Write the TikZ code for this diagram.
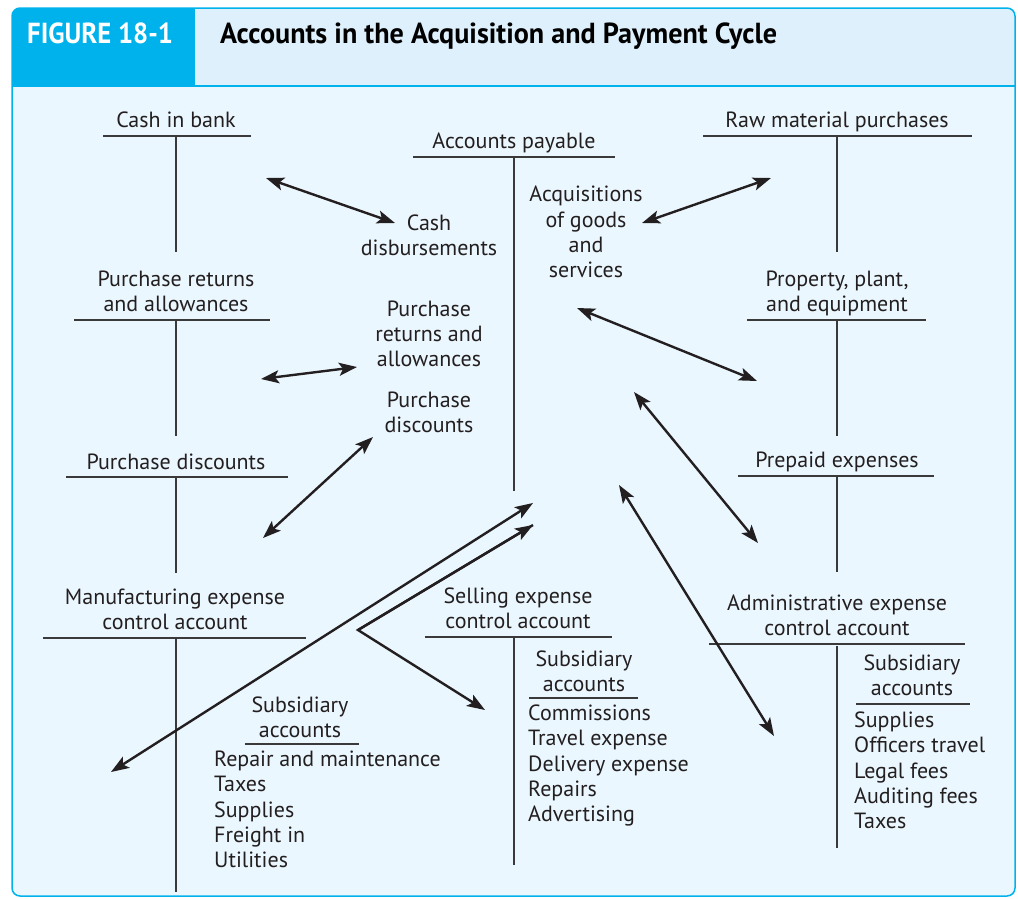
\documentclass[tikz,border=0pt]{standalone}
\usepackage{fontspec}
\setmainfont{PT Sans}
\usetikzlibrary{arrows.meta}
\definecolor{cyanb}{HTML}{00B2EB}
\definecolor{headbg}{HTML}{DDF0FC}
\definecolor{bodybg}{HTML}{EBF7FE}
\definecolor{ink}{HTML}{231F20}
\definecolor{rulec}{HTML}{3A3A3A}
\tikzset{
  tip/.tip={Stealth[length=18pt,width=13pt,inset=4pt]},
  lbl/.style={anchor=south, inner sep=0pt, text depth=0pt, align=center, text=ink, font=\fontsize{22}{25.3}\selectfont},
  lst/.style={anchor=south west, inner sep=0pt, text depth=0pt, align=left, text=ink, font=\fontsize{22}{25.3}\selectfont},
  tline/.style={draw=rulec, line width=1.3pt},
  vline/.style={draw=rulec, line width=1.2pt},
  dbl/.style={draw=ink, line width=2.4pt, tip-tip},
  one/.style={draw=ink, line width=2.4pt, -tip},
}
\begin{document}
\begin{tikzpicture}[x=1pt,y=-1pt]
\useasboundingbox (0,0) rectangle (1018,898);
% frame
\fill[bodybg, rounded corners=8pt] (12,8) rectangle (1015,896);
\begin{scope}
  \clip[rounded corners=8pt] (12,8) rectangle (1015,896);
  \fill[headbg] (12,8) rectangle (1015,86);
  \fill[cyanb] (12,8) rectangle (195,86);
\end{scope}
\draw[cyanb, line width=1.5pt] (12,86) -- (1015,86);
\draw[cyanb, line width=1.5pt, rounded corners=8pt] (12,8) rectangle (1015,896);
% header texts
\node[anchor=base west, inner sep=0pt, text=white] (fig) at (27,43)
  {\scalebox{0.92}[1]{\fontsize{29}{32}\selectfont\bfseries FIGURE 18-1}};
\node[anchor=base west, inner sep=0pt, text=black] (title) at (220,43)
  {\scalebox{0.97}[1]{\fontsize{29}{32}\selectfont\bfseries Accounts in the Acquisition and Payment Cycle}};

% ---- T-accounts ----
% Cash in bank
\node[lbl] (cib) at (176,128) {Cash in bank};
\draw[tline] (103,136) -- (251,136);
\draw[vline] (176,136) -- (176,252);
% Accounts payable
\node[lbl] (ap) at (514,149) {Accounts payable};
\draw[tline] (413,157) -- (615,157);
\draw[vline] (514,157) -- (514,491);
% Raw material purchases
\node[lbl] (rmp) at (837,128) {Raw material purchases};
\draw[tline] (703,136) -- (972,136);
\draw[vline] (837,136) -- (837,252);
% Purchase returns and allowances
\node[lbl] (pra) at (176,312) {Purchase returns\\and allowances};
\draw[tline] (74,320) -- (270,320);
\draw[vline] (176,320) -- (176,436);
% Property, plant, and equipment
\node[lbl] (ppe) at (837,312) {Property, plant,\\and equipment};
\draw[tline] (747,320) -- (926,320);
\draw[vline] (837,320) -- (837,436);
% Purchase discounts
\node[lbl] (pd) at (176,470) {Purchase discounts};
\draw[tline] (66,477) -- (288,477);
\draw[vline] (176,477) -- (176,573);
% Prepaid expenses
\node[lbl] (pre) at (837,468) {Prepaid expenses};
\draw[tline] (738,476) -- (934,476);
\draw[vline] (837,476) -- (837,572);
% Manufacturing expense control account
\node[lbl] (mfg) at (175,630) {Manufacturing expense\\control account};
\draw[tline] (43,638) -- (306,638);
\draw[vline] (176,638) -- (176,892);
% Selling expense control account
\node[lbl] (sel) at (518,629) {Selling expense\\control account};
\draw[tline] (425,637) -- (612,637);
\draw[vline] (514,637) -- (514,865);
% Administrative expense control account
\node[lbl] (adm) at (837,636) {Administrative expense\\control account};
\draw[tline] (709,644) -- (965,644);
\draw[vline] (837,646) -- (837,848);

% ---- subsidiary accounts ----
\node[lbl] (msub) at (300,738) {Subsidiary\\accounts};
\draw[tline] (245,744) -- (359,744);
\node[lst] (mlist) at (214,868) {Repair and maintenance\\Taxes\\Supplies\\Freight in\\Utilities};
\node[lbl] (ssub) at (584,692) {Subsidiary\\accounts};
\draw[tline] (529,698) -- (638,698);
\node[lst] (slist) at (528,822) {Commissions\\Travel expense\\Delivery expense\\Repairs\\Advertising};
\node[lbl] (asub) at (912,696) {Subsidiary\\accounts};
\draw[tline] (856,704) -- (970,704);
\node[lst] (alist) at (854,829) {Supplies\\Officers travel\\Legal fees\\Auditing fees\\Taxes};

% ---- middle labels ----
\node[lbl] (cd) at (429,256) {Cash\\disbursements};
\node[lbl] (acq) at (586,278) {Acquisitions\\of goods\\and\\services};
\node[lbl] (mpra) at (429,367) {Purchase\\returns and\\allowances};
\node[lbl] (mpd) at (429,433) {Purchase\\discounts};

% ---- arrow end points ----
\coordinate (a1s) at (266,178); \coordinate (a1e) at (395,223);
\coordinate (a2s) at (642,223); \coordinate (a2e) at (771,178);
\coordinate (a3s) at (261,379); \coordinate (a3e) at (357,367);
\coordinate (a4s) at (263,538); \coordinate (a4e) at (373,437);
\coordinate (a5s) at (577,308); \coordinate (a5e) at (757,381);
\coordinate (a6s) at (634,392); \coordinate (a6e) at (758,543);
\coordinate (a7s) at (619,485); \coordinate (a7e) at (774,736);
\coordinate (a8s) at (111,772); \coordinate (a8e) at (533,503);
\coordinate (v) at (358,630);
\coordinate (a9e) at (533,525);
\coordinate (a10e) at (485,710);

\draw[dbl] (a1s) -- (a1e);
\draw[dbl] (a2s) -- (a2e);
\draw[dbl] (a3s) -- (a3e);
\draw[dbl] (a4s) -- (a4e);
\draw[dbl] (a5s) -- (a5e);
\draw[dbl] (a6s) -- (a6e);
\draw[dbl] (a7s) -- (a7e);
\draw[dbl] (a8s) -- (a8e);
\draw[one, line join=miter] (a9e) -- (v) -- (a10e);
\draw[one] (v) -- (a9e);
\end{tikzpicture}
\end{document}
